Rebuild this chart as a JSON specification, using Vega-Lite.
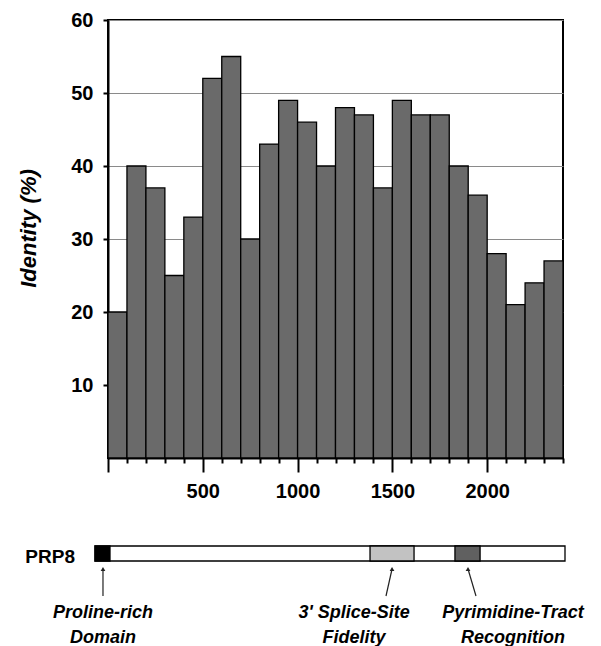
{
  "$schema": "https://vega.github.io/schema/vega-lite/v6.json",
  "width": 455,
  "height": 438,
  "autosize": {"type": "none"},
  "padding": {"left": 108, "top": 20, "right": 38, "bottom": 188},
  "background": "white",
  "config": {
    "view": {"stroke": "black", "strokeWidth": 2},
    "font": "Liberation Sans"
  },
  "resolve": {"scale": {"x": "independent"}},
  "datasets": {
    "bins": [
      {"start": 0, "end": 100, "identity": 20},
      {"start": 100, "end": 200, "identity": 40},
      {"start": 200, "end": 300, "identity": 37},
      {"start": 300, "end": 400, "identity": 25},
      {"start": 400, "end": 500, "identity": 33},
      {"start": 500, "end": 600, "identity": 52},
      {"start": 600, "end": 700, "identity": 55},
      {"start": 700, "end": 800, "identity": 30},
      {"start": 800, "end": 900, "identity": 43},
      {"start": 900, "end": 1000, "identity": 49},
      {"start": 1000, "end": 1100, "identity": 46},
      {"start": 1100, "end": 1200, "identity": 40},
      {"start": 1200, "end": 1300, "identity": 48},
      {"start": 1300, "end": 1400, "identity": 47},
      {"start": 1400, "end": 1500, "identity": 37},
      {"start": 1500, "end": 1600, "identity": 49},
      {"start": 1600, "end": 1700, "identity": 47},
      {"start": 1700, "end": 1800, "identity": 47},
      {"start": 1800, "end": 1900, "identity": 40},
      {"start": 1900, "end": 2000, "identity": 36},
      {"start": 2000, "end": 2100, "identity": 28},
      {"start": 2100, "end": 2200, "identity": 21},
      {"start": 2200, "end": 2300, "identity": 24},
      {"start": 2300, "end": 2400, "identity": 27}
    ]
  },
  "layer": [
    {
      "data": {"name": "bins"},
      "mark": {"type": "bar", "fill": "#6a6a6a", "stroke": "black", "strokeWidth": 1.3},
      "encoding": {
        "x": {
          "field": "start",
          "type": "quantitative",
          "scale": {"domain": [0, 2400], "nice": false, "zero": false},
          "axis": {
            "title": null,
            "orient": "bottom",
            "values": [0, 500, 1000, 1500, 2000],
            "format": "d",
            "labelExpr": "datum.value > 0 ? datum.label : ''",
            "labelOverlap": false,
            "labelFlush": false,
            "labelFontSize": 20,
            "labelFontWeight": "bold",
            "labelColor": "black",
            "labelPadding": 9,
            "tickColor": "black",
            "tickWidth": 2,
            "tickSize": 14,
            "domainColor": "black",
            "domainWidth": 2,
            "grid": false
          }
        },
        "x2": {"field": "end"},
        "y": {
          "field": "identity",
          "type": "quantitative",
          "scale": {"domain": [0, 60], "nice": false},
          "axis": {
            "title": "Identity (%)",
            "values": [10, 20, 30, 40, 50, 60],
            "grid": true,
            "gridColor": "#8a8a8a",
            "gridWidth": 1,
            "tickSize": 5,
            "tickWidth": 2,
            "tickColor": "black",
            "domainColor": "black",
            "domainWidth": 2,
            "labelFontSize": 20,
            "labelFontWeight": "bold",
            "labelColor": "black",
            "labelPadding": 10,
            "labelFlush": false,
            "titleFontSize": 22,
            "titleFontWeight": "bold",
            "titleFontStyle": "italic",
            "titleColor": "black",
            "titleAngle": 270,
            "titleAlign": "center",
            "titleBaseline": "alphabetic",
            "titleX": -73,
            "titleY": 208
          }
        },
        "y2": {"datum": 0}
      }
    },
    {
      "data": {"name": "bins"},
      "mark": {"type": "rule", "opacity": 0},
      "encoding": {
        "x": {
          "field": "end",
          "type": "quantitative",
          "scale": {"domain": [0, 2400], "nice": false, "zero": false},
          "axis": {
            "title": null,
            "orient": "bottom",
            "values": [100, 200, 300, 400, 600, 700, 800, 900, 1100, 1200, 1300, 1400, 1600, 1700, 1800, 1900, 2100, 2200, 2300, 2400],
            "labels": false,
            "domain": false,
            "grid": false,
            "tickColor": "black",
            "tickWidth": 2,
            "tickSize": 5,
            "offset": 0
          }
        }
      }
    },
    {
      "layer": [
        {
          "data": {
            "values": [
              {"part": "protein", "start": 0, "end": 2413},
              {"part": "proline", "start": 0, "end": 77},
              {"part": "splice", "start": 1412, "end": 1638},
              {"part": "pyrimidine", "start": 1848, "end": 1977}
            ]
          },
          "mark": {"type": "rect", "stroke": "black", "strokeWidth": 1.3},
          "encoding": {
            "x": {"field": "start", "type": "quantitative", "scale": {"domain": [0, 2413], "range": [-13, 457], "nice": false, "zero": false}, "axis": null},
            "x2": {"field": "end"},
            "y": {"value": 526},
            "y2": {"value": 541},
            "fill": {
              "field": "part",
              "type": "nominal",
              "scale": {"domain": ["protein", "proline", "splice", "pyrimidine"], "range": ["white", "black", "#c2c2c2", "#606060"]},
              "legend": null
            }
          }
        },
        {
          "data": {
            "values": [
              {"label": "Proline-rich\nDomain", "head": 41, "tail": 41, "textpos": 41},
              {"label": "3' Splice-Site\nFidelity", "head": 1525, "tail": 1494, "textpos": 1330},
              {"label": "Pyrimidine-Tract\nRecognition", "head": 1915, "tail": 1956, "textpos": 2146}
            ]
          },
          "layer": [
            {
              "mark": {"type": "rule", "color": "#222222", "strokeWidth": 1.2},
              "encoding": {
                "x": {"field": "head", "type": "quantitative", "scale": {"domain": [0, 2413], "range": [-13, 457], "nice": false, "zero": false}, "axis": null},
                "x2": {"field": "tail"},
                "y": {"value": 549},
                "y2": {"value": 576}
              }
            },
            {
              "mark": {"type": "point", "shape": "triangle-up", "filled": true, "color": "#222222", "size": 22, "opacity": 1},
              "encoding": {
                "x": {"field": "head", "type": "quantitative", "scale": {"domain": [0, 2413], "range": [-13, 457], "nice": false, "zero": false}, "axis": null},
                "y": {"value": 549}
              }
            },
            {
              "mark": {"type": "text", "align": "center", "baseline": "alphabetic", "fontSize": 18, "fontWeight": "bold", "fontStyle": "italic", "lineBreak": "\n", "lineHeight": 25, "color": "black"},
              "encoding": {
                "x": {"field": "textpos", "type": "quantitative", "scale": {"domain": [0, 2413], "range": [-13, 457], "nice": false, "zero": false}, "axis": null},
                "y": {"value": 598},
                "text": {"field": "label", "type": "nominal"}
              }
            }
          ]
        },
        {
          "data": {"values": [{"name": "PRP8", "pos": 0}]},
          "mark": {"type": "text", "align": "right", "baseline": "alphabetic", "dx": -20, "fontSize": 19, "fontWeight": "bold", "color": "black"},
          "encoding": {
            "x": {"field": "pos", "type": "quantitative", "scale": {"domain": [0, 2413], "range": [-13, 457], "nice": false, "zero": false}, "axis": null},
            "y": {"value": 543},
            "text": {"field": "name", "type": "nominal"}
          }
        }
      ]
    }
  ]
}
